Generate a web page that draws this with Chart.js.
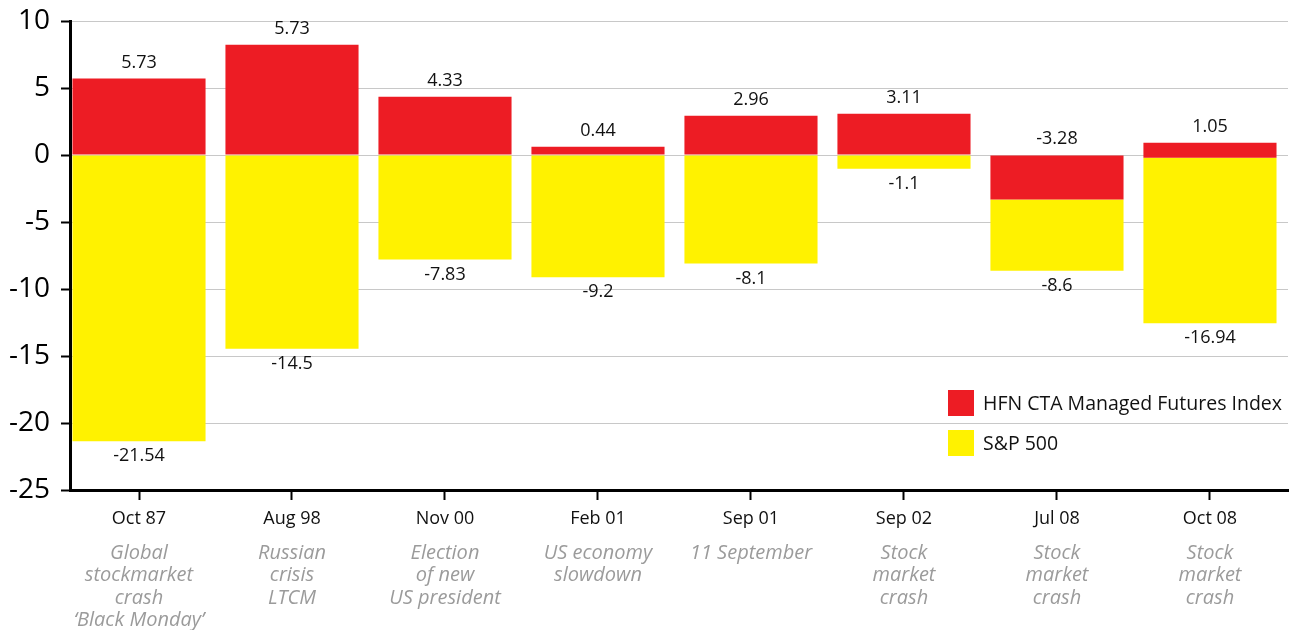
<!DOCTYPE html>
<html>
<head>
<meta charset="utf-8">
<script src="https://cdn.jsdelivr.net/npm/chart.js@4"></script>
<style>
  html, body { margin: 0; padding: 0; background: #fff; }
  #wrap { width: 1298px; height: 630px; }
</style>
</head>
<body>
<div id="wrap"><canvas id="chart-crises"></canvas></div>
<script>
// ── Data ──────────────────────────────────────────────────────────────────────
const CATEGORIES = ['Oct 87', 'Aug 98', 'Nov 00', 'Feb 01', 'Sep 01', 'Sep 02', 'Jul 08', 'Oct 08'];
const EVENTS = [
  ['Global', 'stockmarket', 'crash', '\u2018Black Monday\u2019'],
  ['Russian', 'crisis', 'LTCM'],
  ['Election', 'of new', 'US president'],
  ['US economy', 'slowdown'],
  ['11 September'],
  ['Stock', 'market', 'crash'],
  ['Stock', 'market', 'crash'],
  ['Stock', 'market', 'crash'],
];
const SERIES = ['HFN CTA Managed Futures Index', 'S&P 500'];

// bar extents as drawn in the picture (floating bars)
const HFN_FROM = [0, 0, 0, 0, 0, 0, 0, -0.2];
const HFN_TO   = [5.7, 8.23, 4.35, 0.62, 2.93, 3.08, -3.33, 0.92];
const SP_FROM  = [0, 0, 0, 0, 0, 0, -3.33, -0.2];
const SP_TO    = [-21.37, -14.45, -7.8, -9.13, -8.09, -1.02, -8.63, -12.56];

// printed value labels
const HFN_LABELS = ['5.73', '5.73', '4.33', '0.44', '2.96', '3.11', '-3.28', '1.05'];
const SP_LABELS  = ['-21.54', '-14.5', '-7.83', '-9.2', '-8.1', '-1.1', '-8.6', '-16.94'];

const Y_MIN = -25, Y_MAX = 10, Y_STEP = 5;

const RED = '#ed1c24';
const YELLOW = '#fff200';
const FONT = "'Open Sans', sans-serif";

Chart.defaults.font.family = FONT;
Chart.defaults.color = '#000';

// ── Labels, captions and legend ───────────────────────────────────────────────
const annotate = {
  id: 'annotate',
  afterDatasetsDraw(chart) {
    const { ctx, scales: { x, y } } = chart;
    ctx.save();
    ctx.fillStyle = '#111';
    ctx.font = '18px ' + FONT;
    ctx.textAlign = 'center';
    ctx.textBaseline = 'middle';
    CATEGORIES.forEach((_, i) => {
      const px = x.getPixelForValue(i);
      const top = y.getPixelForValue(Math.max(HFN_FROM[i], HFN_TO[i]));
      ctx.fillText(HFN_LABELS[i], px, top - 16);
      const bottom = y.getPixelForValue(Math.min(SP_FROM[i], SP_TO[i]));
      ctx.fillText(SP_LABELS[i], px, bottom + 15);
    });

    // event captions under the axis labels
    ctx.fillStyle = '#9b9b9b';
    ctx.font = 'italic 20px ' + FONT;
    EVENTS.forEach((lines, i) => {
      const px = x.getPixelForValue(i);
      lines.forEach((t, j) => ctx.fillText(t, px, chart.chartArea.bottom + 63 + j * 22.5));
    });
    ctx.restore();
  },
  afterDraw(chart) {
    const { ctx, chartArea } = chart;
    const colors = [RED, YELLOW];
    ctx.save();
    ctx.font = '19.5px ' + FONT;
    ctx.textAlign = 'left';
    ctx.textBaseline = 'middle';
    SERIES.forEach((name, i) => {
      const bx = chartArea.right - 340;
      const by = chartArea.bottom - 100 + i * 40;
      ctx.fillStyle = colors[i];
      ctx.fillRect(bx, by, 26, 26);
      ctx.fillStyle = '#111';
      ctx.fillText(name, bx + 35, by + 14);
    });
    ctx.restore();
  },
};

// ── Chart ─────────────────────────────────────────────────────────────────────
new Chart(document.getElementById('chart-crises'), {
  type: 'bar',
  data: {
    datasets: [
      {
        label: SERIES[0],
        data: CATEGORIES.map((_, i) => ({ x: i, y: [HFN_FROM[i], HFN_TO[i]] })),
        backgroundColor: RED,
      },
      {
        label: SERIES[1],
        data: CATEGORIES.map((_, i) => ({ x: i, y: [SP_FROM[i], SP_TO[i]] })),
        backgroundColor: YELLOW,
      },
    ],
  },
  options: {
    responsive: true,
    maintainAspectRatio: false,
    animation: false,
    layout: { padding: { top: 21, right: 10, left: 0, bottom: 0 } },
    datasets: { bar: { grouped: false, barPercentage: 0.87, categoryPercentage: 1, borderWidth: 0 } },
    plugins: { legend: { display: false }, tooltip: { enabled: false } },
    scales: {
      x: {
        type: 'linear',
        min: -0.451,
        max: 7.51,
        offset: false,
        afterBuildTicks: s => { s.ticks = CATEGORIES.map((_, i) => ({ value: i })); },
        afterFit: s => { s.height = 140; s.paddingLeft = 0; s.paddingRight = 0; },
        border: { color: '#000', width: 3 },
        grid: { offset: false, drawOnChartArea: false, tickColor: '#000', tickWidth: 2, tickLength: 10 },
        ticks: {
          padding: 8,
          autoSkip: false,
          maxRotation: 0,
          color: '#111',
          font: { size: 18 },
          callback: v => CATEGORIES[v] ?? '',
        },
      },
      y: {
        min: Y_MIN,
        max: Y_MAX,
        afterFit: s => { s.width = 70; s.paddingTop = 0; s.paddingBottom = 0; },
        border: { color: '#000', width: 3 },
        grid: { color: '#c8c8c8', lineWidth: 1, tickColor: '#000', tickWidth: 2, tickLength: 9 },
        ticks: {
          stepSize: Y_STEP,
          padding: 11,
          color: '#000',
          font: { size: 28 },
          callback: v => String(v),
        },
      },
    },
  },
  plugins: [annotate],
});
</script>
</body>
</html>
